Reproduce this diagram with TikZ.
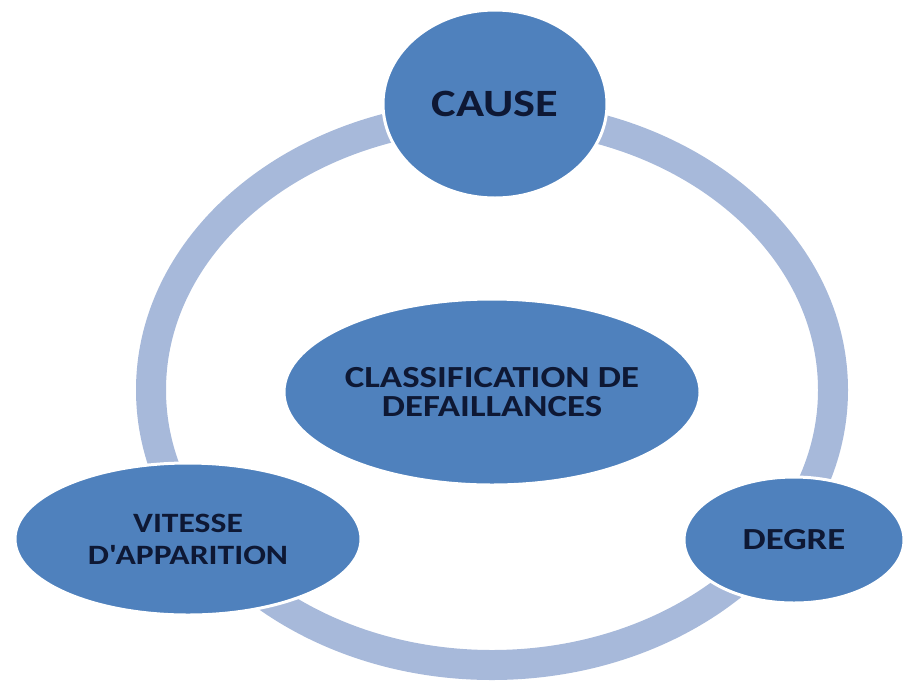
\documentclass[tikz,border=0pt]{standalone}
\usepackage{fontspec}
\setmainfont{Carlito}[FakeStretch=1.2]
\usetikzlibrary{shapes.geometric}
\definecolor{bubblefill}{RGB}{79,129,189}
\definecolor{ringblue}{RGB}{167,185,218}
\definecolor{inknavy}{RGB}{14,24,52}
\tikzset{every picture/.style={line width=0.75pt}}
\tikzset{
  bubble/.style={ellipse,fill=bubblefill,draw=white,line width=2.25pt,inner sep=0pt,
    text=inknavy,font=\bfseries,align=center},
}

\begin{document}
\begin{tikzpicture}[x=0.75pt,y=0.75pt,yscale=-1,xscale=1]
\useasboundingbox (0,0) rectangle (903,683);
%Shape: Ring
\coordinate (hub) at (492,390);
\draw [ringblue,line width=22.5pt] (hub) ellipse [x radius=341, y radius=275];

%Shape: Ellipse [centre]
\node (classif) [bubble,minimum width=310.5pt,minimum height=139.5pt,
  font=\bfseries\fontsize{23}{22}\selectfont] at (492,392) {CLASSIFICATION DE\\DEFAILLANCES};
%Shape: Ellipse [top]
\node (cause) [bubble,minimum width=168pt,minimum height=141pt,
  font=\bfseries\fontsize{29}{30}\selectfont] at (495,104) {CAUSE};
%Shape: Ellipse [left]
\node (vitesse) [bubble,minimum width=259.5pt,minimum height=114pt,
  font=\bfseries\fontsize{21}{24}\selectfont] at (188,539) {VITESSE\\D\textquotesingle APPARITION};
%Shape: Ellipse [right]
\node (degre) [bubble,minimum width=165pt,minimum height=94.5pt,
  font=\bfseries\fontsize{23}{24}\selectfont] at (794,540) {DEGRE};

\end{tikzpicture}
\end{document}
